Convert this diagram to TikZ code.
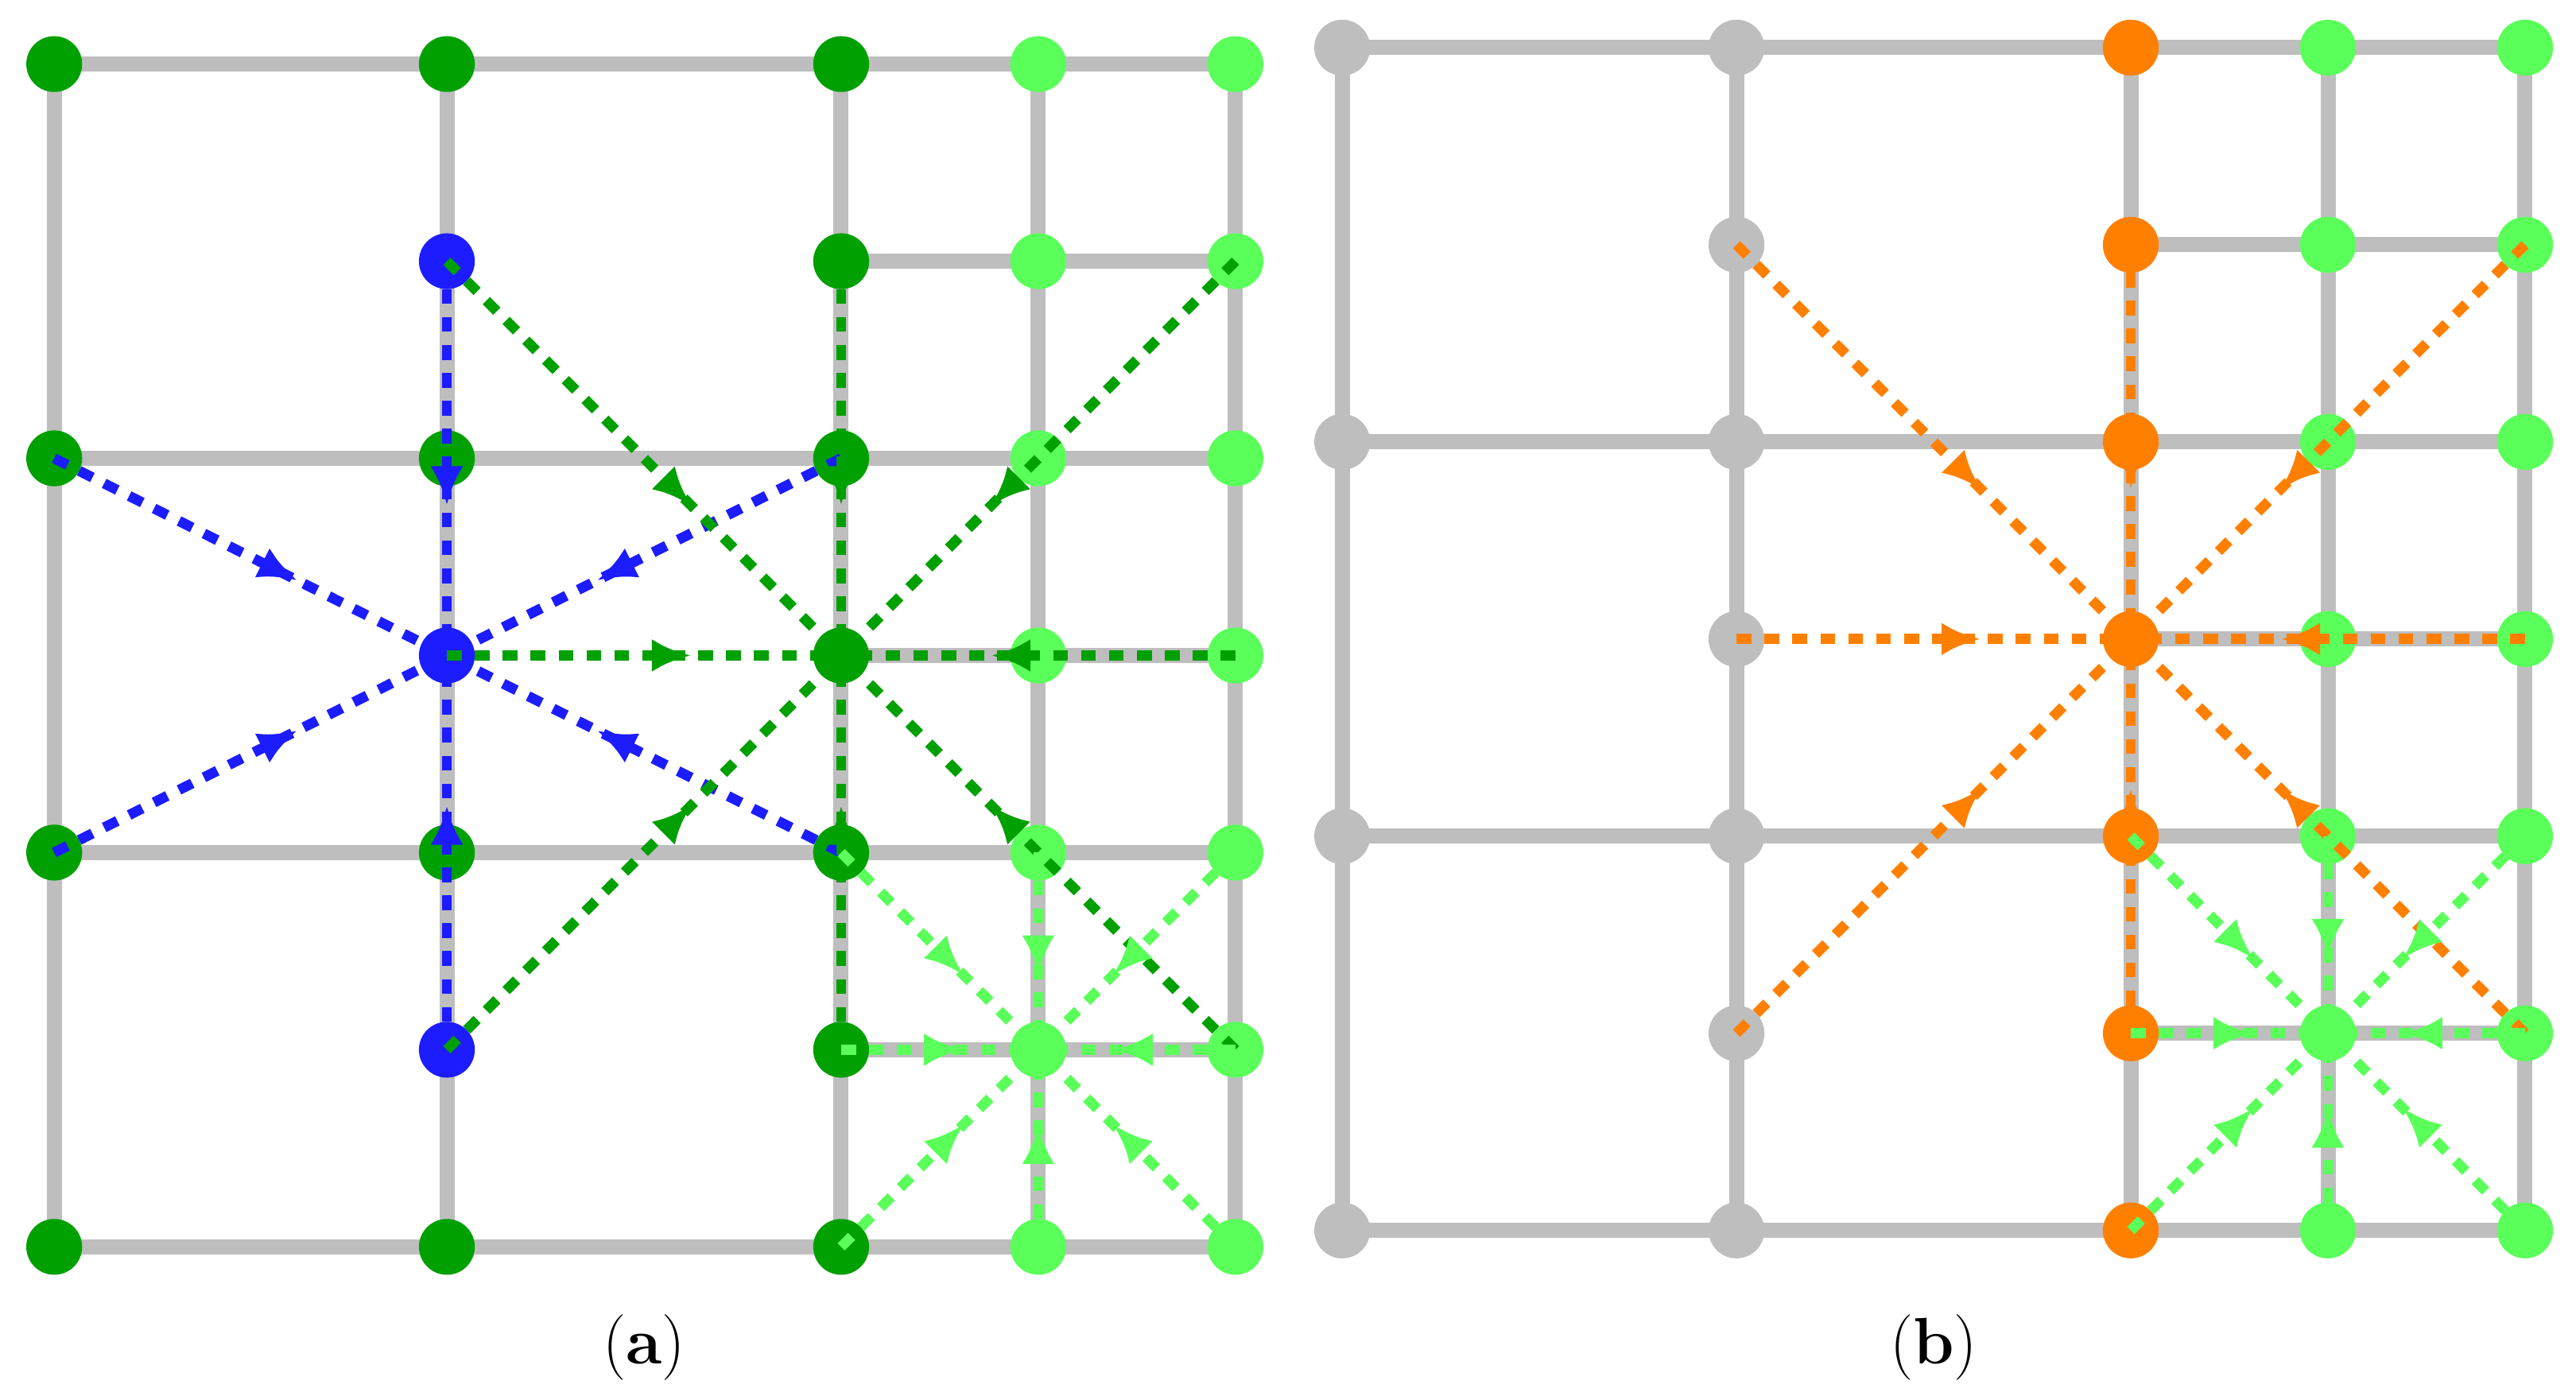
\documentclass[tikz,border=0pt]{standalone}
\usetikzlibrary{decorations.markings,arrows.meta}
\begin{document}
\definecolor{dg}{RGB}{0,160,0}
\definecolor{lg}{RGB}{90,255,90}
\definecolor{bl}{RGB}{28,28,255}
\definecolor{og}{RGB}{255,128,0}
\definecolor{gr}{RGB}{190,190,190}
\begin{tikzpicture}[x=0.5pt,y=-0.5pt,
 grid/.style={gr,line width=4.6pt},
 nd/.style={circle,fill=#1,minimum size=17pt,inner sep=0pt},
 ar/.style={#1,line width=3.1pt,dash pattern=on 4.5pt off 4pt,
   postaction={decorate},decoration={markings,mark=at position 0.62 with {\arrow{Latex[length=12pt,width=10pt]}}}}]
\useasboundingbox (0,0) rectangle (1568,852);
% ---------- (a)
\foreach \y in {39,279,519,759} \draw[grid] (33,\y) -- (752,\y);
\foreach \x in {33,272,512,632,752} \draw[grid] (\x,39) -- (\x,759);
\foreach \y in {159,399,639} \draw[grid] (512,\y) -- (752,\y);
\foreach \x/\y in {33/39,272/39,512/39,33/279,272/279,512/279,512/159,33/519,272/519,512/519,512/639,33/759,272/759,512/759,512/399}
  \node[nd=dg] (a\x-\y) at (\x,\y) {};
\foreach \x in {632,752} \foreach \y in {39,159,279,399,519,639,759}
  \node[nd=lg] (a\x-\y) at (\x,\y) {};
\foreach \y in {159,399,639} \node[nd=bl] (a272-\y) at (272,\y) {};
\foreach \s in {272-159,33-279,33-519,272-639,512-279,512-519}
  \draw[ar=bl] (a\s.center) -- (a272-399.center);
\foreach \s in {272-159,272-399,272-639,512-159,512-639,752-159,752-399,752-639}
  \draw[ar=dg] (a\s.center) -- (a512-399.center);
\foreach \s in {512-519,632-519,752-519,512-639,752-639,512-759,632-759,752-759}
  \draw[ar=lg] (a\s.center) -- (a632-639.center);
% ---------- (b)
\foreach \y in {29,269,509,749} \draw[grid] (817,\y) -- (1537,\y);
\foreach \x in {817,1057,1297,1417,1537} \draw[grid] (\x,29) -- (\x,749);
\foreach \y in {149,389,629} \draw[grid] (1297,\y) -- (1537,\y);
\foreach \y in {29,269,509,749} \node[nd=gr] (b817-\y) at (817,\y) {};
\foreach \y in {29,149,269,389,509,629,749} {
  \node[nd=gr] (b1057-\y) at (1057,\y) {};
  \node[nd=og] (b1297-\y) at (1297,\y) {};
  \node[nd=lg] (b1417-\y) at (1417,\y) {};
  \node[nd=lg] (b1537-\y) at (1537,\y) {};}
\foreach \s in {1057-149,1057-389,1057-629,1297-149,1297-629,1537-149,1537-389,1537-629}
  \draw[ar=og] (b\s.center) -- (b1297-389.center);
\foreach \s in {1297-509,1417-509,1537-509,1297-629,1537-629,1297-749,1417-749,1537-749}
  \draw[ar=lg] (b\s.center) -- (b1417-629.center);
\node[font=\fontsize{20}{24}\selectfont] (la) at (392,820) {(\textbf{a})};
\node[font=\fontsize{20}{24}\selectfont] (lb) at (1177,820) {(\textbf{b})};
\end{tikzpicture}
\end{document}
